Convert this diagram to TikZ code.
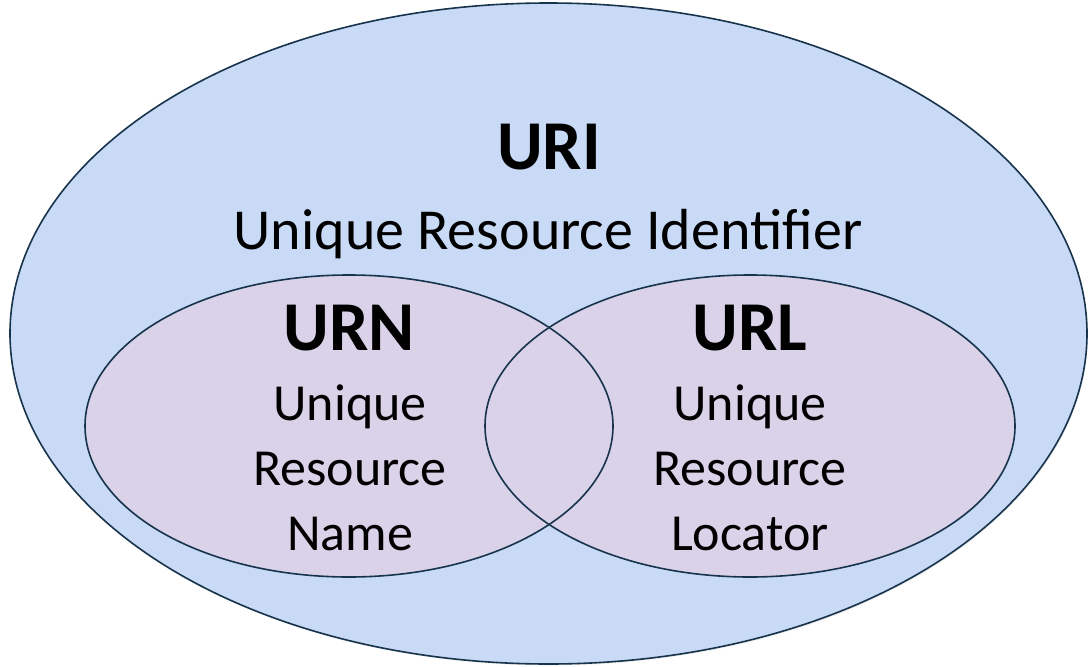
\documentclass[tikz,border=0pt]{standalone}
\usepackage{fontspec}
\setmainfont{Carlito}
\definecolor{uriblue}{HTML}{C8DAF5}
\definecolor{lav}{HTML}{D9D2E9}
\definecolor{edge}{HTML}{18344C}
\begin{document}
\begin{tikzpicture}[x=1pt,y=-1pt,
  outline/.style={draw=edge,line width=1.6pt},
  title/.style={anchor=base,font=\fontsize{70}{84}\selectfont\bfseries,inner sep=0pt},
  sub/.style={anchor=base,font=\fontsize{52}{65}\selectfont,inner sep=0pt,align=center},
  subbig/.style={anchor=base,font=\fontsize{58}{70}\selectfont,inner sep=0pt}]
\useasboundingbox (0,0) rectangle (1088,667);
% shadow
\fill[black!7] (549.5,335) ellipse [x radius=538.5, y radius=330.5];
\fill[uriblue] (548.5,333.5) ellipse [x radius=538.5, y radius=330.5];
\draw[outline] (548.5,333.5) ellipse [x radius=538.5, y radius=330.5];
\fill[lav] (349,426) ellipse [x radius=264, y radius=151];
\fill[lav] (750,426) ellipse [x radius=265, y radius=151];
\draw[outline] (349,426) ellipse [x radius=264, y radius=151];
\draw[outline] (750,426) ellipse [x radius=265, y radius=151];
\node[title] (uri) at (549,169) {URI};
\node[subbig] (urid) at (548,249) {Unique Resource Identifier};
\node[title] (urn) at (349,350) {URN};
\node[title] (url) at (750,350) {URL};
\node[sub] (u1) at (350,420) {Unique};
\node[sub] (r1) at (350,485) {Resource};
\node[sub] (n1) at (350,550) {Name};
\node[sub] (u2) at (750,420) {Unique};
\node[sub] (r2) at (750,485) {Resource};
\node[sub] (l2) at (750,550) {Locator};
\end{tikzpicture}
\end{document}
